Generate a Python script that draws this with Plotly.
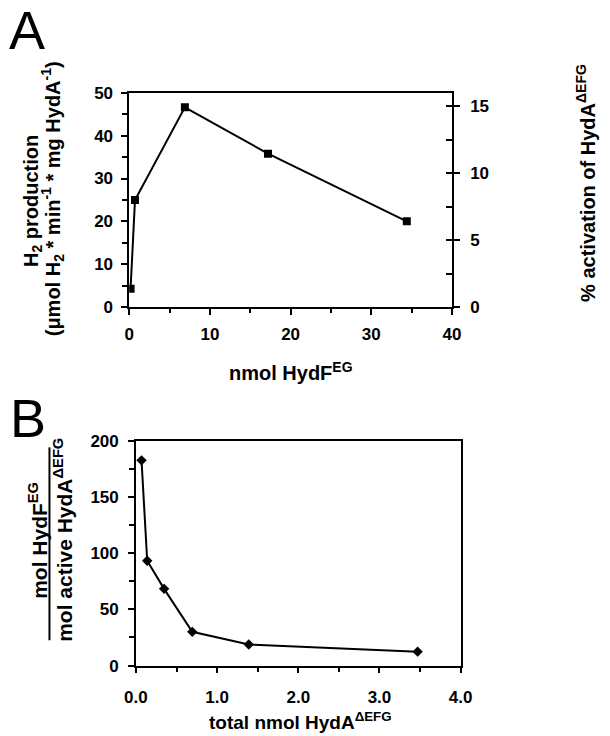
import plotly.graph_objects as go

# Panel A data
hydf_nmol = [0.17, 0.72, 6.9, 17.2, 34.4]
h2_production = [4.3, 25.0, 46.6, 35.8, 20.0]

# Panel B data
total_hyda_nmol = [0.069, 0.139, 0.347, 0.694, 1.39, 3.47]
mol_ratio = [182.4, 93.2, 68.2, 30.0, 18.8, 12.4]

W, H = 610, 736
FONT = "Liberation Sans, Arial, sans-serif"

def px(x):
    return x / W

def py(y):
    return 1 - y / H

tickfont = dict(family=FONT, size=17, color="black", weight="bold")

fig = go.Figure()
fig.add_trace(go.Scatter(
    x=hydf_nmol, y=h2_production, mode="lines+markers",
    line=dict(color="black", width=2),
    marker=dict(symbol="square", size=8, color="black"),
    xaxis="x", yaxis="y", showlegend=False))
fig.add_trace(go.Scatter(
    x=total_hyda_nmol, y=mol_ratio, mode="lines+markers",
    line=dict(color="black", width=2),
    marker=dict(symbol="diamond", size=8, color="black"),
    xaxis="x3", yaxis="y3", showlegend=False))

axis_common = dict(showgrid=False, zeroline=False, showline=True,
                   linecolor="black", linewidth=1.5, tickcolor="black",
                   tickwidth=1.5, tickfont=tickfont)

xA = [122, 458]
yA = [86, 306]
xB = [129, 467]
yB = [443, 674]

fig.update_layout(
    width=W, height=H, margin=dict(l=0, r=0, t=0, b=0),
    paper_bgcolor="white", plot_bgcolor="white",
    xaxis=dict(domain=[px(xA[0]), px(xA[1])], range=[0, 40], anchor="y",
               tickvals=[0, 10, 20, 30, 40], ticks="outside", ticklen=6,
               minor=dict(tickvals=[5, 15, 25, 35], ticks="outside", ticklen=4,
                          tickcolor="black", tickwidth=1.5),
               mirror=True, ticklabelstandoff=5, **axis_common),
    yaxis=dict(domain=[py(yA[1]), py(yA[0])], range=[0, 50], anchor="x",
               tickvals=[0, 10, 20, 30, 40, 50], ticks="outside", ticklen=6,
               minor=dict(tickvals=[5, 15, 25, 35, 45], ticks="outside", ticklen=5,
                          tickcolor="black", tickwidth=1.5),
               ticklabelstandoff=5, **axis_common),
    yaxis2=dict(range=[0, 16], overlaying="y", side="right", anchor="x",
                tickvals=[0, 5, 10, 15], ticks="outside", ticklen=6,
                ticklabelstandoff=7, **axis_common),
    yaxis4=dict(range=[0, 16], overlaying="y", side="right", anchor="x",
                tickvals=[0, 2.5, 5, 7.5, 10, 12.5, 15], ticks="inside", ticklen=6,
                showticklabels=False, showgrid=False, zeroline=False,
                showline=False, tickcolor="black", tickwidth=1.5),
    xaxis3=dict(domain=[px(xB[0]), px(xB[1])], range=[0, 4], anchor="y3",
                tickvals=[0, 1, 2, 3, 4], tickformat=".1f", ticks="outside", ticklen=6,
                minor=dict(tickvals=[0.5, 1.5, 2.5, 3.5], ticks="outside", ticklen=5,
                           tickcolor="black", tickwidth=1.5),
                mirror=True, ticklabelstandoff=9, **axis_common),
    yaxis3=dict(domain=[py(yB[1]), py(yB[0])], range=[0, 200], anchor="x3",
                tickvals=[0, 50, 100, 150, 200], ticks="outside", ticklen=6,
                minor=dict(tickvals=[25, 75, 125, 175], ticks="outside", ticklen=5,
                           tickcolor="black", tickwidth=1.5),
                mirror=True, ticklabelstandoff=6, **axis_common),
)

# empty traces so the secondary axes render
fig.add_trace(go.Scatter(x=[None], y=[None], xaxis="x", yaxis="y2", showlegend=False, hoverinfo="skip"))
fig.add_trace(go.Scatter(x=[None], y=[None], xaxis="x", yaxis="y4", showlegend=False, hoverinfo="skip"))

titlefont = dict(family=FONT, size=20, color="black", weight="bold")
ann = []

def add(text, x, y, angle=0, font=titlefont):
    ann.append(dict(text=text, x=px(x), y=py(y), xref="paper", yref="paper",
                    showarrow=False, textangle=angle, font=font,
                    xanchor="center", yanchor="middle"))

add("A", 16, 22, font=dict(family=FONT, size=54, color="black"))
add("B", 17, 420, font=dict(family=FONT, size=54, color="black"))
add("H<sub>2</sub> production", 22, 197, -90)
add("(μmol H<sub>2</sub> * min<sup>-1</sup> * mg HydA<sup>-1</sup>)", 43, 195, -90)
add("% activation of HydA<sup>ΔEFG</sup>", 597, 179, -90)
add("nmol HydF<sup>EG</sup>", 290, 372)
add("total nmol HydA<sup>ΔEFG</sup>", 300, 731, font=dict(family=FONT, size=19, color="black", weight="bold"))
bfont = dict(family=FONT, size=21, color="black", weight="bold")
add("mol HydF<sup>EG</sup>", 27, 545, -90, font=bfont)
add("mol active HydA<sup>ΔEFG</sup>", 53, 545, -90, font=bfont)
fig.update_layout(annotations=ann)

fig.add_shape(type="line", xref="paper", yref="paper",
              x0=px(39), x1=px(39), y0=py(450), y1=py(648),
              line=dict(color="black", width=2))

fig.write_html("out.html")
